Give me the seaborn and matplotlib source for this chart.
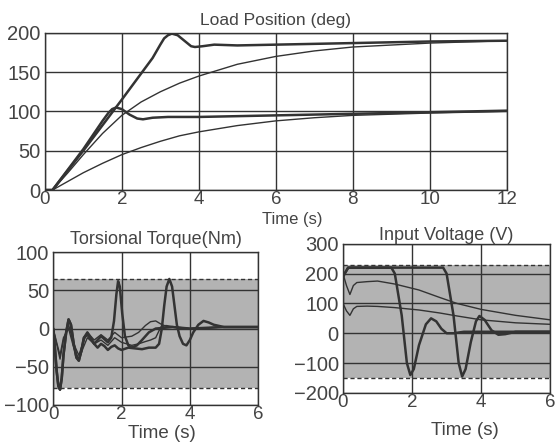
import matplotlib
matplotlib.use("Agg")
import matplotlib.pyplot as plt
import seaborn as sns

# Load position (deg)
pos_t_fast200 = [0, 0.2, 1, 2, 2.8, 3.0, 3.1, 3.2, 3.3, 3.45, 3.6, 3.8, 3.9, 4.1, 4.4,
                 5, 6, 8, 10, 12]
pos_fast200 = [0, 0, 50, 115, 168, 185, 193, 197, 199, 197, 191, 183, 182, 183, 185,
               184, 185, 187, 189, 190]
pos_t_fast100 = [0, 0.2, 1, 1.5, 1.65, 1.75, 1.85, 2.0, 2.2, 2.4, 2.55, 2.8, 3.2, 4,
                 6, 8, 10, 12]
pos_fast100 = [0, 0, 52, 88, 98, 103, 105, 103, 96, 91, 90, 92, 93, 93,
               95, 97, 99, 101]
pos_t_slow = [0, 0.2, 0.6, 1, 1.5, 2, 2.5, 3, 3.5, 4, 5, 6, 7, 8, 10, 12]
pos_slow200 = [0, 0, 22, 45, 72, 95, 112, 125, 136, 145, 160, 170, 177, 182, 187, 190]
pos_slow100 = [0, 0, 11, 22, 34, 45, 54, 62, 69, 74, 82, 88, 92, 95, 98, 100]

# Torsional torque (Nm)
tq_t_a = [0, 0.05, 0.1, 0.15, 0.2, 0.25, 0.3, 0.38, 0.45, 0.52, 0.6, 0.68, 0.75, 0.82,
          0.9, 1.0, 1.1, 1.2, 1.3, 1.4, 1.5, 1.6, 1.7, 1.78, 1.85, 1.9, 1.95, 2.02,
          2.1, 2.2, 2.3, 2.45, 2.6, 2.8, 3.0, 3.5, 4, 5, 6]
tq_a = [0, -25, -55, -75, -80, -65, -35, -5, 12, 5, -20, -38, -42, -30,
        -12, -5, -12, -20, -15, -10, -14, -18, -12, 10, 45, 62, 55, 20,
        -10, -22, -25, -22, -15, -5, 0, 2, 0, 2, 2]
tq_t_b = [0, 0.05, 0.1, 0.15, 0.2, 0.25, 0.3, 0.38, 0.45, 0.52, 0.6, 0.68, 0.75, 0.82,
          0.9, 1.0, 1.1, 1.2, 1.3, 1.4, 1.5, 1.6, 1.7, 1.8, 1.9, 2.0, 2.2, 2.4, 2.6,
          2.8, 3.0, 3.1, 3.18, 3.25, 3.32, 3.4, 3.48, 3.55, 3.62, 3.7, 3.8, 3.9, 4.0,
          4.1, 4.25, 4.4, 4.55, 4.7, 5, 6]
tq_b = [0, -25, -55, -75, -80, -65, -35, -5, 12, 5, -20, -38, -42, -30,
        -12, -8, -14, -20, -25, -20, -23, -28, -24, -22, -26, -28, -25, -26, -27,
        -25, -25, -20, 0, 30, 55, 65, 55, 30, 5, -10, -20, -22, -15,
        -5, 5, 10, 8, 5, 2, 2]
tq_t_c = [0, 0.1, 0.2, 0.3, 0.45, 0.6, 0.75, 0.88, 1.0, 1.2, 1.4, 1.6, 1.8, 2.0, 2.3,
          2.5, 2.7, 2.85, 3.0, 3.15, 3.3, 3.6, 4, 5, 6]
tq_c = [0, -20, -40, -15, 5, -20, -35, -18, -5, -15, -8, -15, -5, -12, -10,
        -5, 4, 9, 10, 6, 3, 1, 0, 2, 2]
tq_d = [0, -18, -35, -12, 0, -25, -40, -25, -12, -20, -15, -22, -12, -18, -22,
        -20, -17, -15, -12, 2, 4, 2, 0, 2, 2]

# Input voltage (V)
v_t_a = [0, 0.15, 1.4, 1.5, 1.7, 1.85, 1.95, 2.05, 2.2, 2.4, 2.55, 2.7, 2.85, 3.0,
         3.2, 3.5, 4, 5, 6]
v_a = [190, 220, 220, 200, 60, -100, -140, -120, -40, 30, 50, 40, 15, 0,
       0, 5, 5, 5, 5]
v_t_b = [0, 0.15, 2.9, 3.0, 3.2, 3.35, 3.45, 3.55, 3.7, 3.85, 3.95, 4.1, 4.3, 4.5,
         4.7, 5, 6]
v_b = [190, 220, 220, 200, 60, -100, -145, -120, -30, 40, 58, 45, 10, -5,
       -3, 5, 5]
v_t_c = [0, 0.1, 0.2, 0.3, 0.4, 0.7, 1.0, 1.5, 2.2, 2.8, 3.3, 4.0, 5.0, 6]
v_c = [200, 160, 130, 160, 170, 173, 175, 165, 145, 120, 100, 80, 60, 45]
v_d = [100, 75, 60, 82, 90, 91, 90, 86, 78, 68, 58, 45, 35, 30]

torque_band = (-78, 65)
volt_band = (-150, 230)

sns.set_style("white")
plt.rcParams["font.family"] = ["Liberation Sans", "DejaVu Sans"]

ink = "#333333"
txt = "#444444"
fig = plt.figure(figsize=(5.6, 4.44), dpi=100)


def style(ax, xt, yt, xlim, ylim):
    ax.set_xlim(*xlim)
    ax.set_ylim(*ylim)
    ax.set_xticks(xt)
    ax.set_yticks(yt)
    ax.grid(True, color=ink, lw=1.0)
    ax.tick_params(length=0, colors=txt)
    ax.tick_params(axis="x", pad=1, labelsize=13.5)
    ax.tick_params(axis="y", pad=3, labelsize=14.5)
    for s in ax.spines.values():
        s.set_color(ink)
        s.set_linewidth(1.0)
    ax.set_axisbelow(True)


def xlab(ax, x, y, size):
    ax.set_xlabel("Time (s)", fontsize=size, color=txt)
    ax.xaxis.set_label_coords(x, y)
    ax.xaxis.label.set_verticalalignment("center")


ax1 = fig.add_axes([0.080, 0.572, 0.825, 0.354])
sns.lineplot(x=pos_t_fast200, y=pos_fast200, ax=ax1, color=ink, lw=1.8)
sns.lineplot(x=pos_t_fast100, y=pos_fast100, ax=ax1, color=ink, lw=1.8)
sns.lineplot(x=pos_t_slow, y=pos_slow200, ax=ax1, color=ink, lw=1.0)
sns.lineplot(x=pos_t_slow, y=pos_slow100, ax=ax1, color=ink, lw=1.0)
style(ax1, range(0, 13, 2), range(0, 201, 50), (0, 12), (0, 200))
ax1.set_title("Load Position (deg)", fontsize=12.5, color=txt, pad=6)
xlab(ax1, 0.535, -0.185, 12)

ax2 = fig.add_axes([0.095, 0.088, 0.366, 0.344])
ax2.axhspan(*torque_band, color="#b3b3b3", zorder=0.5, lw=0)
for yb in torque_band:
    ax2.axhline(yb, color=ink, lw=1.0, ls=(0, (3, 2)))
sns.lineplot(x=tq_t_a, y=tq_a, ax=ax2, color=ink, lw=1.8)
sns.lineplot(x=tq_t_b, y=tq_b, ax=ax2, color=ink, lw=1.8)
sns.lineplot(x=tq_t_c, y=tq_c, ax=ax2, color=ink, lw=1.0)
sns.lineplot(x=tq_t_c, y=tq_d, ax=ax2, color=ink, lw=1.0)
style(ax2, range(0, 7, 2), range(-100, 101, 50), (0, 6), (-100, 100))
ax2.set_title("Torsional Torque(Nm)", fontsize=13, color=txt, pad=6)
xlab(ax2, 0.53, -0.19, 13.5)

ax3 = fig.add_axes([0.6125, 0.115, 0.370, 0.336])
ax3.axhspan(*volt_band, color="#b3b3b3", zorder=0.5, lw=0)
for yb in volt_band:
    ax3.axhline(yb, color=ink, lw=1.0, ls=(0, (3, 2)))
sns.lineplot(x=v_t_a, y=v_a, ax=ax3, color=ink, lw=1.8)
sns.lineplot(x=v_t_b, y=v_b, ax=ax3, color=ink, lw=1.8)
sns.lineplot(x=v_t_c, y=v_c, ax=ax3, color=ink, lw=1.0)
sns.lineplot(x=v_t_c, y=v_d, ax=ax3, color=ink, lw=1.0)
style(ax3, range(0, 7, 2), range(-200, 301, 100), (0, 6), (-200, 300))
ax3.set_title("Input Voltage (V)", fontsize=13, color=txt, pad=3)
xlab(ax3, 0.59, -0.25, 13.5)

fig.savefig("out.png", dpi=100)
